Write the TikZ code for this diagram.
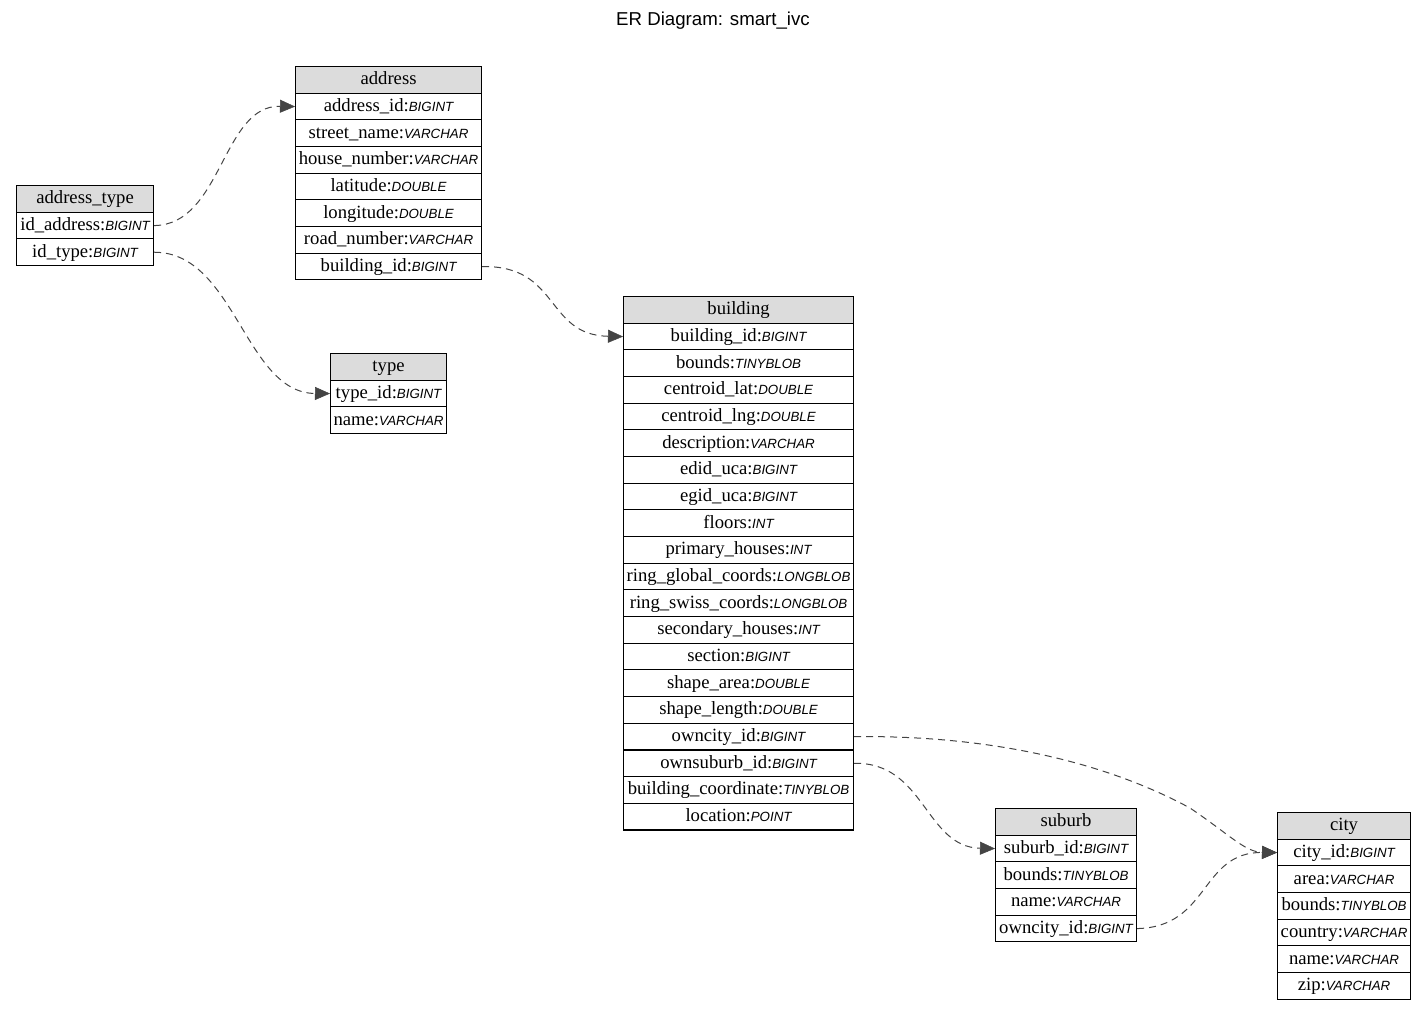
\documentclass[tikz,border=0pt]{standalone}
\usepackage{fontspec}
\setmainfont{Liberation Serif}
\newfontfamily\tyfont{Liberation Sans}
\newfontfamily\titlefont{Liberation Sans}
\usetikzlibrary{arrows.meta}
\definecolor{hdrgray}{HTML}{DCDCDC}
\definecolor{edgegray}{HTML}{444444}
\newcommand\tyf[1]{{\tyfont\itshape\fontsize{13.33}{16}\selectfont #1}}
\newcommand\ertable[6]{%
  \node[hdrbox, minimum width=#4, anchor=north west] (#1-0) at (#2,#3) {#5};
  \foreach \txt/\ty [count=\i] in {#6} {
    \node[rowbox, minimum width=#4, anchor=north west] (#1-\i) at (#2,{#3+\i*26.67}) {\txt:\tyf{\ty}};
  }%
}
\tikzset{
  tbl/.style={draw=black, line width=1.1pt, inner sep=0pt, minimum height=26.67pt,
    font=\fontsize{18.67}{22}\selectfont, text depth=0pt, text height=1em},
  hdrbox/.style={tbl, fill=hdrgray},
  rowbox/.style={tbl, fill=white},
  fk/.style={draw=edgegray, line width=1pt, dash pattern=on 7pt off 5pt,
    -{Triangle[length=15pt,width=13pt,fill=edgegray,line width=0.5pt]}, shorten >=0pt},
}
\begin{document}
\begin{tikzpicture}[x=1pt,y=-1pt]
\useasboundingbox (0,0) rectangle (1427,1031);
\node[font=\titlefont\fontsize{18.67}{22}\selectfont] (title) at (713,21) {ER Diagram: smart\_ivc};

\ertable{address_type}{16}{185}{137}{address\_type}{id\_address/BIGINT, id\_type/BIGINT}
\ertable{address}{295}{66}{186}{address}{address\_id/BIGINT, street\_name/VARCHAR, house\_number/VARCHAR, latitude/DOUBLE, longitude/DOUBLE, road\_number/VARCHAR, building\_id/BIGINT}
\ertable{type}{330}{353}{116}{type}{type\_id/BIGINT, name/VARCHAR}
\ertable{building}{623}{296}{230}{building}{building\_id/BIGINT, bounds/TINYBLOB, centroid\_lat/DOUBLE, centroid\_lng/DOUBLE, description/VARCHAR, edid\_uca/BIGINT, egid\_uca/BIGINT, floors/INT, primary\_houses/INT, ring\_global\_coords/LONGBLOB, ring\_swiss\_coords/LONGBLOB, secondary\_houses/INT, section/BIGINT, shape\_area/DOUBLE, shape\_length/DOUBLE, owncity\_id/BIGINT, ownsuburb\_id/BIGINT, building\_coordinate/TINYBLOB, location/POINT}
\ertable{suburb}{995}{808}{141}{suburb}{suburb\_id/BIGINT, bounds/TINYBLOB, name/VARCHAR, owncity\_id/BIGINT}
\ertable{city}{1277}{812}{133}{city}{city\_id/BIGINT, area/VARCHAR, bounds/TINYBLOB, country/VARCHAR, name/VARCHAR, zip/VARCHAR}

\draw[fk] (address_type-1.east) .. controls (222,225) and (222,105) .. (address-1.west);
\draw[fk] (address_type-2.east) .. controls (235,252) and (245,393) .. (type-1.west);
\draw[fk] (address-7.east) .. controls (560,265) and (545,335) .. (building-1.west);
\draw[fk] (building-16.east) .. controls (1010,735) and (1120,770) .. (1190,808) .. controls (1230,835) and (1245,852) .. (city-1.west);
\draw[fk] (building-17.east) .. controls (925,762) and (925,847) .. (suburb-1.west);
\draw[fk] (suburb-4.east) .. controls (1210,927) and (1200,852) .. (city-1.west);
\end{tikzpicture}
\end{document}
